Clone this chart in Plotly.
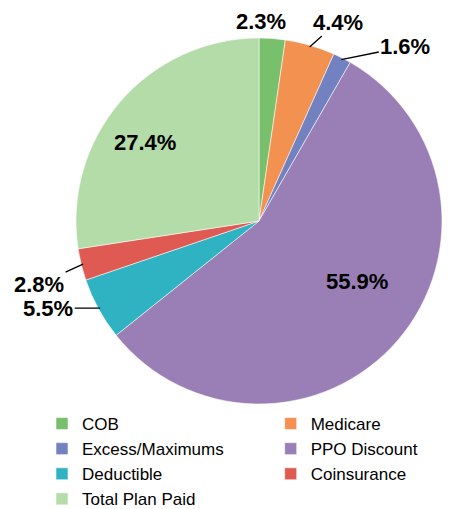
import math

import plotly.graph_objects as go

# data
labels = [
    "COB",
    "Medicare",
    "Excess/Maximums",
    "PPO Discount",
    "Deductible",
    "Coinsurance",
    "Total Plan Paid",
]
values = [2.3, 4.4, 1.6, 55.9, 5.5, 2.8, 27.4]

colors = ["#78c06c", "#f39150", "#7282c0", "#9a7fb6", "#2fb3c2", "#de5a52", "#b3dca9"]

W, H = 462, 509
PAGE_MARGIN = 8  # default <body> margin of the html page
# pie box in page pixels (left, top, right, bottom)
PIE_BOX = (76, 38, 442, 404)
FONT = "Arial, Liberation Sans, sans-serif"
LABEL_FONT = dict(family=FONT, size=22, color="black", weight="bold")

# small slices: label outside, (dx, dy) px from the slice edge, with/without leader line
outside_offsets = {
    "COB": (-11, -19, False),
    "Medicare": (28, -25, True),
    "Excess/Maximums": (64, -13, True),
    "Deductible": (-52, 0, True),
    "Coinsurance": (-44, 20, True),
}
# big slices: label inside, (radius fraction, angle nudge in degrees)
inside_pos = {
    "PPO Discount": (0.63, -9),
    "Total Plan Paid": (0.755, -6),
}

cx = (PIE_BOX[0] + PIE_BOX[2]) / 2
cy = (PIE_BOX[1] + PIE_BOX[3]) / 2
r = (PIE_BOX[2] - PIE_BOX[0]) / 2
total = sum(values)


def to_paper(px_, py_):
    return (px_ - PAGE_MARGIN) / W, 1 - (py_ - PAGE_MARGIN) / H


x0, y1 = to_paper(PIE_BOX[0], PIE_BOX[1])
x1, y0 = to_paper(PIE_BOX[2], PIE_BOX[3])

fig = go.Figure(
    go.Pie(
        labels=labels,
        values=values,
        sort=False,
        direction="clockwise",
        rotation=0,
        marker=dict(colors=colors, line=dict(color="rgba(255,255,255,0.55)", width=1)),
        textinfo="none",
        domain=dict(x=[x0, x1], y=[y0, y1]),
        hoverinfo="label+value",
    )
)

# percentage labels, placed from each slice's mid angle
cum = 0
for lab, v in zip(labels, values):
    mid = (cum + v / 2) / total * 360
    cum += v
    txt = f"{v:.1f}%"
    if lab in inside_pos:
        frac, nudge = inside_pos[lab]
        a = math.radians(mid + nudge)
        x, y = to_paper(cx + r * frac * math.sin(a), cy - r * frac * math.cos(a))
        fig.add_annotation(
            x=x, y=y, xref="paper", yref="paper", text=txt, showarrow=False,
            xanchor="center", yanchor="middle", font=LABEL_FONT,
        )
        continue
    dx, dy, arrow = outside_offsets[lab]
    a = math.radians(mid)
    ex = cx + r * 0.99 * math.sin(a)
    ey = cy - r * 0.99 * math.cos(a)
    if arrow:
        x, y = to_paper(ex, ey)
        fig.add_annotation(
            x=x, y=y, xref="paper", yref="paper", text=txt,
            showarrow=True, arrowhead=0, arrowwidth=1.3, arrowcolor="black",
            ax=dx, ay=dy, font=LABEL_FONT,
        )
    else:
        x, y = to_paper(ex + dx, ey + dy)
        fig.add_annotation(
            x=x, y=y, xref="paper", yref="paper", text=txt, showarrow=False,
            xanchor="center", yanchor="middle", font=LABEL_FONT,
        )

fig.update_layout(
    width=W,
    height=H,
    margin=dict(l=0, r=0, t=0, b=0, autoexpand=False),
    paper_bgcolor="white",
    showlegend=True,
    legend=dict(
        orientation="h",
        x=4 / W,
        xanchor="left",
        y=1 - 398 / H,
        yanchor="top",
        indentation=30,
        entrywidth=0.495,
        entrywidthmode="fraction",
        font=dict(family=FONT, size=17, color="black"),
        itemwidth=30,
        bgcolor="rgba(0,0,0,0)",
    ),
)

fig.write_html("out.html")
